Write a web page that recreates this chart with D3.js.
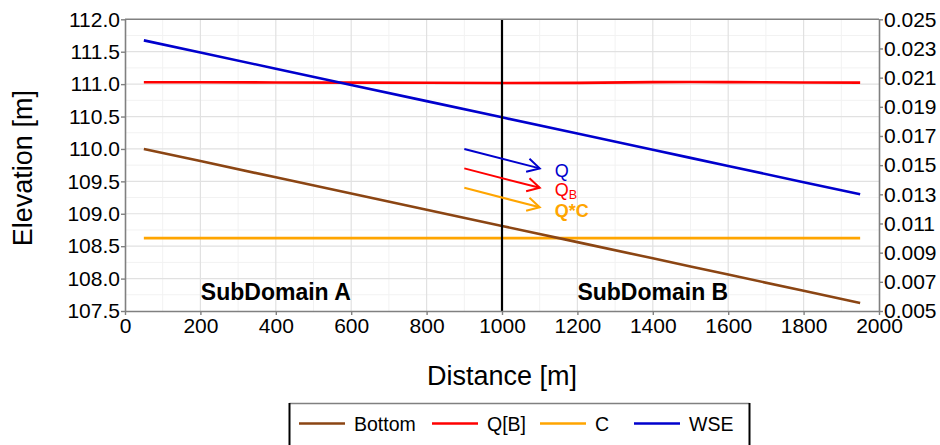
<!DOCTYPE html>
<html>
<head>
<meta charset="utf-8">
<script src="https://cdn.jsdelivr.net/npm/d3@7"></script>
<style>
  html, body { margin: 0; padding: 0; background: #fff; }
  svg { display: block; font-family: "Liberation Sans", Arial, sans-serif; }
</style>
</head>
<body>
<svg id="chart" width="940" height="445"></svg>
<script>
// ---------------- data ----------------
const distance   = [50, 200, 400, 600, 800, 1000, 1200, 1400, 1500, 1600, 1800, 1950];
const bottom     = [110.0, 109.8125, 109.5625, 109.3125, 109.0625, 108.8125, 108.5625, 108.3125, 108.1875, 108.0625, 107.8125, 107.625];
const wse        = [111.675, 111.4875, 111.2375, 110.9875, 110.7375, 110.4875, 110.2375, 109.9875, 109.8625, 109.7375, 109.4875, 109.3];
const qB         = [0.02068, 0.02068, 0.02067, 0.02066, 0.02065, 0.02063, 0.02064, 0.02069, 0.0207, 0.02069, 0.02067, 0.02066];
const cValue     = [0.0100, 0.0100, 0.0100, 0.0100, 0.0100, 0.0100, 0.0100, 0.0100, 0.0100, 0.0100, 0.0100, 0.0100];
const xTicks     = [0, 200, 400, 600, 800, 1000, 1200, 1400, 1600, 1800, 2000];
const yLeftTicks = [107.5, 108.0, 108.5, 109.0, 109.5, 110.0, 110.5, 111.0, 111.5, 112.0];
const yRightTicks = [0.005, 0.007, 0.009, 0.011, 0.013, 0.015, 0.017, 0.019, 0.021, 0.023, 0.025];
const divideAt   = 1000;
const subdomains = [{label: "SubDomain A", x: 400, y: 107.67}, {label: "SubDomain B", x: 1400, y: 107.67}];
const arrows = [
  {name: "Q",   x0: 900, y0: 110.0, x1: 1100, y1: 109.7, lx: 1140, ly: 109.56, color: "#0000cd"},
  {name: "QB",  x0: 900, y0: 109.7, x1: 1100, y1: 109.4, lx: 1140, ly: 109.27, color: "#ff0000"},
  {name: "Q*C", x0: 900, y0: 109.4, x1: 1100, y1: 109.1, lx: 1140, ly: 108.95, color: "#ffa500"}
];
const legendNames  = ["Bottom", "Q[B]", "C", "WSE"];
const legendColors = ["#8b4513", "#ff0000", "#ffa500", "#0000cd"];

// ---------------- layout ----------------
const svg = d3.select("#chart");
const L = 125, R = 879, T = 19.3, B = 311;
const x  = d3.scaleLinear().domain([0, 2000]).range([L, R]);
const yL = d3.scaleLinear().domain([107.5, 112.0]).range([B, T]);
const yR = d3.scaleLinear().domain([0.005, 0.025]).range([B, T]);

// grid (minor then major)
const g = svg.append("g");
const xMinor = d3.range(100, 2000, 200);
const yMinor = d3.range(107.75, 112.0, 0.5);
g.selectAll(".xmin").data(xMinor).join("line")
  .attr("x1", d => x(d)).attr("x2", d => x(d)).attr("y1", T).attr("y2", B)
  .attr("stroke", "#f2f2f2").attr("stroke-width", 1);
g.selectAll(".ymin").data(yMinor).join("line")
  .attr("x1", L).attr("x2", R).attr("y1", d => yL(d)).attr("y2", d => yL(d))
  .attr("stroke", "#f2f2f2").attr("stroke-width", 1);
g.selectAll(".xmaj").data(xTicks.slice(1, -1)).join("line")
  .attr("x1", d => x(d)).attr("x2", d => x(d)).attr("y1", T).attr("y2", B)
  .attr("stroke", "#e1e1e1").attr("stroke-width", 1.2);
g.selectAll(".ymaj").data(yLeftTicks.slice(1, -1)).join("line")
  .attr("x1", L).attr("x2", R).attr("y1", d => yL(d)).attr("y2", d => yL(d))
  .attr("stroke", "#e1e1e1").attr("stroke-width", 1.2);

// series
const rows = distance.map((d, i) => ({d, bottom: bottom[i], wse: wse[i], qB: qB[i], c: cValue[i]}));
const mk = (acc, sc) => d3.line().x(r => x(r.d)).y(r => sc(acc(r)));
const series = [
  {acc: r => r.c,      sc: yR, color: legendColors[2]},
  {acc: r => r.bottom, sc: yL, color: legendColors[0]},
  {acc: r => r.qB,     sc: yR, color: legendColors[1]},
  {acc: r => r.wse,    sc: yL, color: legendColors[3]}
];
series.forEach(s => {
  svg.append("path").datum(rows).attr("d", mk(s.acc, s.sc))
    .attr("fill", "none").attr("stroke", s.color).attr("stroke-width", 2.6);
});

// divider
svg.append("line").attr("x1", x(divideAt)).attr("x2", x(divideAt))
  .attr("y1", T).attr("y2", B).attr("stroke", "#000").attr("stroke-width", 2.2);

// arrows
arrows.forEach(a => {
  const X0 = x(a.x0), Y0 = yL(a.y0), X1 = x(a.x1), Y1 = yL(a.y1);
  const ang = Math.atan2(Y1 - Y0, X1 - X0);
  const hl = 14, ha = 0.5;
  const p1 = [X1 - hl * Math.cos(ang - ha), Y1 - hl * Math.sin(ang - ha)];
  const p2 = [X1 - hl * Math.cos(ang + ha), Y1 - hl * Math.sin(ang + ha)];
  svg.append("line").attr("x1", X0).attr("y1", Y0).attr("x2", X1).attr("y2", Y1)
    .attr("stroke", a.color).attr("stroke-width", 2);
  svg.append("path").attr("d", `M${p1[0]},${p1[1]}L${X1},${Y1}L${p2[0]},${p2[1]}`)
    .attr("fill", "none").attr("stroke", a.color).attr("stroke-width", 2);
  const t = svg.append("text").attr("x", x(a.lx)).attr("y", yL(a.ly))
    .attr("fill", a.color).attr("font-size", 18);
  if (a.name === "QB") {
    t.append("tspan").text("Q");
    t.append("tspan").attr("font-size", 12.5).attr("dy", 2.5).text("B");
  } else if (a.name === "Q*C") {
    t.attr("font-weight", "bold").text("Q*C");
  } else {
    t.text(a.name);
  }
});

// subdomain labels
svg.selectAll(".sub").data(subdomains).join("text")
  .attr("x", d => x(d.x)).attr("y", d => yL(d.y))
  .attr("text-anchor", "middle").attr("font-weight", "bold").attr("font-size", 23)
  .attr("fill", "#000").text(d => d.label);

// axes
const axColor = "#808080";
const styleAxis = sel => {
  sel.selectAll(".domain").attr("stroke", axColor).attr("stroke-width", 1.6);
  sel.selectAll(".tick line").attr("stroke", axColor).attr("stroke-width", 1.4);
  sel.selectAll(".tick text").attr("fill", "#000").attr("font-size", 21)
    .attr("font-family", '"Liberation Sans", Arial, sans-serif');
};
svg.append("g").attr("transform", `translate(0,${B})`)
  .call(d3.axisBottom(x).tickValues(xTicks).tickFormat(d3.format("d")).tickSize(4).tickSizeOuter(0).tickPadding(3))
  .call(styleAxis);
svg.append("g").attr("transform", `translate(${L},0)`)
  .call(d3.axisLeft(yL).tickValues(yLeftTicks).tickFormat(d3.format(".1f")).tickSize(4).tickSizeOuter(0).tickPadding(1))
  .call(styleAxis);
svg.append("g").attr("transform", `translate(${R},0)`)
  .call(d3.axisRight(yR).tickValues(yRightTicks).tickFormat(d3.format(".3f")).tickSize(4).tickSizeOuter(0).tickPadding(1))
  .call(styleAxis);
svg.append("line").attr("x1", L).attr("x2", R).attr("y1", T).attr("y2", T)
  .attr("stroke", axColor).attr("stroke-width", 1.6);

// axis titles
svg.append("text").attr("x", (L + R) / 2).attr("y", 385).attr("text-anchor", "middle")
  .attr("font-size", 27).attr("fill", "#000").text("Distance [m]");
svg.append("text").attr("transform", `translate(32,${(T + B) / 2 + 3}) rotate(-90)`)
  .attr("text-anchor", "middle").attr("font-size", 27).attr("fill", "#000").text("Elevation [m]");

// legend
const lg = svg.append("g");
const lgLeft = 289.5, lgRight = 749.5, lgTop = 403.5, lgY = 423.5;
lg.append("line").attr("x1", lgLeft).attr("x2", lgRight).attr("y1", lgTop).attr("y2", lgTop)
  .attr("stroke", "#808080").attr("stroke-width", 1.5);
[lgLeft, lgRight].forEach(xx => lg.append("line").attr("x1", xx).attr("x2", xx)
  .attr("y1", lgTop - 0.5).attr("y2", 445).attr("stroke", "#000").attr("stroke-width", 2));
const itemStart = [299, 432, 540, 634];
legendNames.forEach((n, i) => {
  const x0 = itemStart[i];
  lg.append("line").attr("x1", x0).attr("x2", x0 + 46).attr("y1", lgY).attr("y2", lgY)
    .attr("stroke", legendColors[i]).attr("stroke-width", 2.6);
  lg.append("text").attr("x", x0 + 55).attr("y", lgY + 7).attr("font-size", 19.5)
    .attr("fill", "#000").text(n);
});
</script>
</body>
</html>
